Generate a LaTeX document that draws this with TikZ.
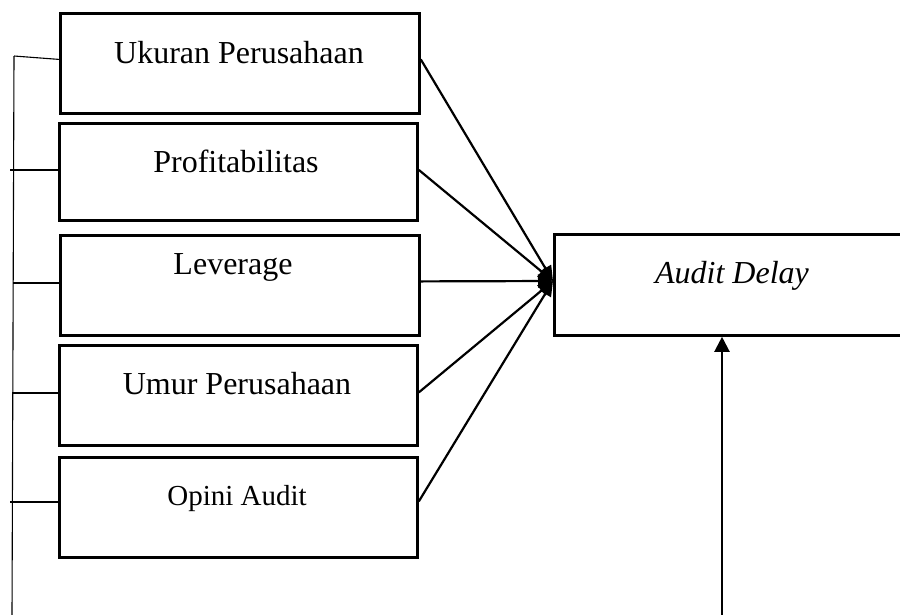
\documentclass[tikz,border=0pt]{standalone}
\usepackage{fontspec}
\setmainfont{Liberation Serif}
\usetikzlibrary{arrows.meta,calc}
\begin{document}
\begin{tikzpicture}[x=1pt,y=-1pt,
  varbox/.style={draw,line width=2.8pt,rectangle,inner sep=0pt,anchor=north west},
  lbl/.style={anchor=base,inner sep=0pt,font=\fontsize{32}{38}\selectfont},
  conn/.style={line width=2.2pt,-{Triangle[length=15pt,width=13pt]}},
  thin/.style={line width=1.1pt}]
\useasboundingbox (0,0) rectangle (900,614);
% boxes
\node[varbox,minimum width=359pt,minimum height=100pt] (b1) at (59,12) {};
\node[varbox,minimum width=358pt,minimum height=97pt] (b2) at (58,122) {};
\node[varbox,minimum width=359pt,minimum height=100pt] (b3) at (59,234) {};
\node[varbox,minimum width=358pt,minimum height=100pt] (b4) at (58,344) {};
\node[varbox,minimum width=358pt,minimum height=100pt] (b5) at (58,456) {};
\node[varbox,minimum width=352pt,minimum height=101pt] (ad) at (553,233) {};
% labels
\node[lbl] (t1) at (239,63) {Ukuran Perusahaan};
\node[lbl] (t2) at (236,172) {Profitabilitas};
\node[lbl] (t3) at (233,274) {Leverage};
\node[lbl] (t4) at (237,394) {Umur Perusahaan};
\node[lbl,font=\fontsize{29}{35}\selectfont] (t5) at (237,505) {Opini Audit};
\node[lbl] (t6) at (732,283) {\itshape Audit Delay};
% connectors to Audit Delay
\coordinate (tgt) at (553,281);
\draw[conn] ([yshift=4pt]b1.east) -- (tgt);
\draw[conn] ([yshift=2pt]b2.east) -- (tgt);
\draw[conn] ([yshift=4pt]b3.east) -- (tgt);
\draw[conn] ([yshift=3pt]b4.east) -- (tgt);
\draw[conn] ([yshift=6pt]b5.east) -- (tgt);
% bottom arrow
\coordinate (bot) at (722,616);
\draw[line width=2.2pt,-{Triangle[length=15pt,width=15pt]}] (bot) -- (bot |- ad.south);
% left bracket
\coordinate (vtop) at (14,56);
\coordinate (vbot) at (12,616);
\draw[thin] (vtop) -- (vbot);
\coordinate (l2) at (10,170);
\coordinate (l3) at (13,283);
\coordinate (l4) at (12,393);
\coordinate (l5) at (10,502);
\draw[thin] (vtop) -- ([yshift=4pt]b1.west);
\draw[thin] (l2) -- (l2 -| b2.west);
\draw[thin] (l3) -- (l3 -| b3.west);
\draw[thin] (l4) -- (l4 -| b4.west);
\draw[thin] (l5) -- (l5 -| b5.west);
\end{tikzpicture}
\end{document}
